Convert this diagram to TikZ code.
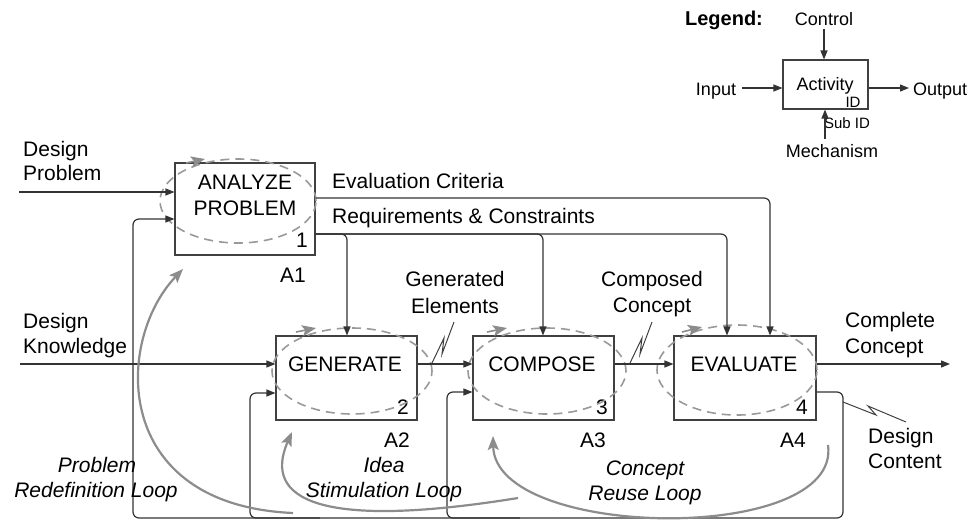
\documentclass[tikz,border=0pt]{standalone}
\usepackage{fontspec}
\setmainfont{Liberation Sans}
\usetikzlibrary{arrows.meta}
\begin{document}
\begin{tikzpicture}[x=1pt,y=-1pt,
  box/.style={draw=black!75, line width=1.1pt, inner sep=0pt},
  txt/.style={font=\fontsize{21}{24}\selectfont, inner sep=0pt, anchor=base},
  ltxt/.style={txt, anchor=base west},
  itxt/.style={font=\fontsize{21}{24}\selectfont\itshape, inner sep=0pt, anchor=base},
  lgtxt/.style={font=\fontsize{18}{21}\selectfont, inner sep=0pt, anchor=base},
  smtxt/.style={font=\fontsize{15}{18}\selectfont, inner sep=0pt, anchor=base},
  arr/.style={draw=black!80, line width=1.2pt, rounded corners=6pt, -{Triangle[length=9pt,width=7pt]}},
  ln/.style={draw=black!80, line width=1.2pt, rounded corners=6pt},
  grayloop/.style={draw=black!45, line width=2.2pt, -{Stealth[length=14pt,width=11pt,inset=3pt]}},
  dsh/.style={draw=black!40, line width=1.6pt, dash pattern=on 9pt off 6pt},
  sq/.style={draw=black!75, line width=1pt}]
\useasboundingbox (0,0) rectangle (972,520);

% boxes
\node[box, minimum width=140pt, minimum height=92pt] (a1) at (245,209) {};
\node[box, minimum width=141pt, minimum height=84pt] (a2) at (346.5,378) {};
\node[box, minimum width=141pt, minimum height=84pt] (a3) at (543.5,378) {};
\node[box, minimum width=142pt, minimum height=84pt] (a4) at (745,378) {};

% box texts
\node[txt] (t1a) at (245,189) {ANALYZE};
\node[txt] (t1b) at (245,215) {PROBLEM};
\node[txt] (n1) at (302,247) {1};
\node[txt] (l1) at (293,282) {A1};
\node[txt] (t2) at (345,371) {GENERATE};
\node[txt] (n2) at (403,414) {2};
\node[txt] (l2) at (397,447) {A2};
\node[txt] (t3) at (542,371) {COMPOSE};
\node[txt] (n3) at (602,414) {3};
\node[txt] (l3) at (593,447) {A3};
\node[txt] (t4) at (744,371) {EVALUATE};
\node[txt] (n4) at (802,414) {4};
\node[txt] (l4) at (793,447) {A4};

% dashed ellipses
\draw[dsh] (238,201) ellipse [x radius=78pt, y radius=42pt];
\draw[dsh] (352,371) ellipse [x radius=80pt, y radius=43pt];
\draw[dsh] (547,371) ellipse [x radius=79pt, y radius=43pt];
\draw[dsh] (737,370) ellipse [x radius=80pt, y radius=45pt];
\coordinate (e1s) at (186,163); \coordinate (e1e) at (205,159);
\coordinate (e2s) at (296,332); \coordinate (e2e) at (316,328);
\coordinate (e3s) at (487,332); \coordinate (e3e) at (507,328);
\coordinate (e4s) at (682,332); \coordinate (e4e) at (702,327);
\draw[grayloop, line width=1.6pt] (e1s) -- (e1e);
\draw[grayloop, line width=1.6pt] (e2s) -- (e2e);
\draw[grayloop, line width=1.6pt] (e3s) -- (e3e);
\draw[grayloop, line width=1.6pt] (e4s) -- (e4e);

% inputs
\node[ltxt] (dp1) at (23,156) {Design};
\node[ltxt] (dp2) at (23,180) {Problem};
\coordinate (dp) at (19,192);
\draw[arr] (dp) -- (dp -| a1.west);
\node[ltxt] (dk1) at (23,328) {Design};
\node[ltxt] (dk2) at (23,353) {Knowledge};
\coordinate (dk) at (20,364);
\draw[arr] (dk) -- (dk -| a2.west);

% flows between activities
\draw[arr] (a2.east |- dk) -- (a3.west |- dk);
\draw[arr] (a3.east |- dk) -- (a4.west |- dk);
\coordinate (cc) at (950,364);
\draw[arr] (a4.east |- dk) -- (cc);
\node[ltxt] (cc1) at (845,327) {Complete};
\node[ltxt] (cc2) at (845,353) {Concept};

% controls from A1
\node[ltxt] (ect) at (332,188) {Evaluation Criteria};
\node[ltxt] (rct) at (332,223) {Requirements \& Constraints};
\coordinate (ec) at (770,198);
\draw[arr] (a1.east |- ec) -- (ec) -- (ec |- a4.north);
\coordinate (rc) at (315,234);
\coordinate (r2) at (347,234);
\coordinate (r3) at (543,234);
\coordinate (r4) at (727,234);
\draw[arr] (rc) -- (r4) -- (r4 |- a4.north);
\draw[arr] (rc) -- (r3) -- (r3 |- a3.north);
\draw[arr] (rc) -- (r2) -- (r2 |- a2.north);

% feedback (design content)
\coordinate (fb) at (843,392);
\coordinate (fbl) at (133,518);
\coordinate (fb1) at (133,219);
\draw[arr] (a4.east |- fb) -- (fb) -- (fb |- fbl) -- (fbl) -- (fb1) -- (fb1 -| a1.west);
\coordinate (s2) at (320,518);
\coordinate (b2) at (250,518);
\coordinate (s3) at (520,518);
\coordinate (b3) at (447,518);
\coordinate (y2) at (0,393);
\coordinate (y3) at (0,392);
\draw[arr] (s2) -- (b2) -- (b2 |- y2) -- (a2.west |- y2);
\draw[arr] (s3) -- (b3) -- (b3 |- y3) -- (a3.west |- y3);

% squiggle labels
\node[txt] (ge1) at (455,286) {Generated};
\node[txt] (ge2) at (455,313) {Elements};
\coordinate (g0) at (432,363); \coordinate (g1) at (444,338);
\coordinate (g2) at (442,354); \coordinate (g3) at (454,322);
\draw[sq] (g0) -- (g1) -- (g2) -- (g3);
\node[txt] (co1) at (652,286) {Composed};
\node[txt] (co2) at (652,312) {Concept};
\coordinate (c0) at (630,363); \coordinate (c1) at (642,338);
\coordinate (c2) at (640,354); \coordinate (c3) at (652,322);
\draw[sq] (c0) -- (c1) -- (c2) -- (c3);
\node[ltxt] (dc1) at (868,443) {Design};
\node[ltxt] (dc2) at (868,468) {Content};
\coordinate (d0) at (843,402); \coordinate (d1) at (876,415);
\coordinate (d2) at (868,406); \coordinate (d3) at (906,422);
\draw[sq] (d0) -- (d1) -- (d2) -- (d3);

% gray loops
\coordinate (p0) at (293,513); \coordinate (p1) at (183,269);
\draw[grayloop] (p0) .. controls (110,505) and (115,340) .. (p1);
\coordinate (i0) at (518,498); \coordinate (i1) at (292,432);
\draw[grayloop] (i0) .. controls (320,530) and (262,500) .. (i1);
\coordinate (u0) at (828,445); \coordinate (u1) at (493,436);
\draw[grayloop] (u0) .. controls (842,545) and (495,540) .. (u1);

\node[itxt] (pl1) at (97,472) {Problem};
\node[itxt] (pl2) at (96,497) {Redefinition Loop};
\node[itxt] (il1) at (384,472) {Idea};
\node[itxt] (il2) at (384,497) {Stimulation Loop};
\node[itxt] (rl1) at (645,475) {Concept};
\node[itxt] (rl2) at (645,500) {Reuse Loop};

% legend
\node[box, minimum width=85pt, minimum height=49pt] (lg) at (825.5,84.5) {};
\node[lgtxt, font=\fontsize{20}{24}\selectfont\bfseries] (lgt) at (724,25) {Legend:};
\node[lgtxt] (lc) at (824,25) {Control};
\coordinate (lca) at (824,29);
\draw[arr] (lca) -- (lca |- lg.north);
\node[lgtxt] (li) at (716,95) {Input};
\coordinate (lia) at (742,88);
\draw[arr] (lia) -- (lia -| lg.west);
\coordinate (loa) at (909,88);
\draw[arr] (loa -| lg.east) -- (loa);
\node[lgtxt, anchor=base west] (lo) at (913,95) {Output};
\node[lgtxt] (la) at (825,90) {Activity};
\node[smtxt] (lid) at (853,107) {ID};
\node[smtxt] (lsid) at (847,128) {Sub ID};
\coordinate (lma) at (825,139);
\draw[arr] (lma) -- (lma |- lg.south);
\node[lgtxt] (lm) at (832,157) {Mechanism};
\end{tikzpicture}
\end{document}
